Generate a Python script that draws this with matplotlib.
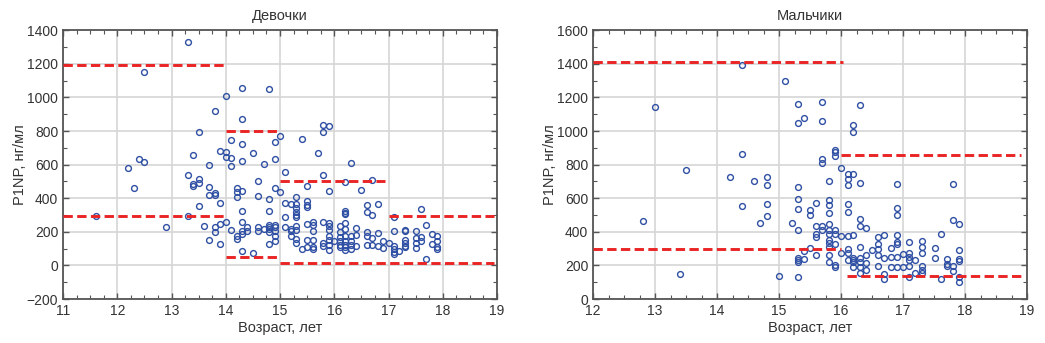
import matplotlib.pyplot as plt
import numpy as np

plt.rcParams.update({"font.family": ["Liberation Sans", "DejaVu Sans"], "font.size": 10})

# Девочки: возраст (лет) и P1NP (нг/мл)
girls_age = [11.6, 12.2, 12.3, 12.4, 12.5, 12.5, 12.9, 13.3, 13.3, 13.3, 13.4, 13.4, 13.4,
             13.5, 13.5, 13.5, 13.5, 13.6, 13.7, 13.7, 13.7, 13.7, 13.8, 13.8, 13.8, 13.8, 13.8,
             13.9, 13.9, 13.9, 13.9, 14.0, 14.0, 14.0, 14.0, 14.1, 14.1, 14.1, 14.1,
             14.2, 14.2, 14.2, 14.2, 14.2, 14.3, 14.3, 14.3, 14.3, 14.3, 14.3, 14.3, 14.3, 14.3, 14.3,
             14.4, 14.4, 14.5, 14.5, 14.6, 14.6, 14.6, 14.6, 14.7, 14.7,
             14.8, 14.8, 14.8, 14.8, 14.8, 14.8, 14.8, 14.8,
             14.9, 14.9, 14.9, 14.9, 14.9, 14.9, 14.9, 14.9, 15.0, 15.0,
             15.1, 15.1, 15.1, 15.1, 15.2, 15.2, 15.2, 15.2,
             15.3, 15.3, 15.3, 15.3, 15.3, 15.3, 15.3, 15.3, 15.3, 15.3, 15.4, 15.4,
             15.5, 15.5, 15.5, 15.5, 15.5, 15.5, 15.5, 15.6, 15.6, 15.6, 15.6, 15.6, 15.6, 15.7,
             15.8, 15.8, 15.8, 15.8, 15.8, 15.8, 15.9, 15.9, 15.9, 15.9, 15.9, 15.9, 15.9, 15.9, 15.9,
             16.0, 16.1, 16.1, 16.1, 16.1, 16.1, 16.1,
             16.2, 16.2, 16.2, 16.2, 16.2, 16.2, 16.2, 16.2, 16.2, 16.2, 16.2,
             16.3, 16.3, 16.3, 16.3, 16.3, 16.4, 16.4, 16.4, 16.5,
             16.6, 16.6, 16.6, 16.6, 16.6, 16.7, 16.7, 16.7, 16.7, 16.8, 16.8, 16.8, 16.9, 16.9, 17.0,
             17.1, 17.1, 17.1, 17.1, 17.1, 17.1, 17.2, 17.3, 17.3, 17.3, 17.3, 17.3, 17.3,
             17.5, 17.5, 17.5, 17.5, 17.6, 17.6, 17.6, 17.7, 17.7, 17.8, 17.8, 17.9, 17.9, 17.9, 17.9]
girls_p1np = [296, 580, 460, 633, 615, 1154, 227, 1327, 538, 292, 657, 487, 472,
              797, 517, 489, 351, 237, 598, 469, 422, 152, 917, 434, 422, 229, 197,
              680, 369, 244, 126, 1010, 675, 643, 256, 747, 637, 593, 213,
              463, 440, 408, 173, 158, 1055, 872, 724, 619, 444, 325, 256, 203, 189, 85,
              227, 207, 669, 75, 503, 416, 231, 207, 604, 215,
              1051, 398, 325, 243, 231, 215, 201, 128,
              734, 633, 463, 243, 227, 207, 176, 146, 771, 440,
              555, 371, 290, 227, 365, 215, 207, 173,
              406, 365, 341, 321, 302, 286, 233, 213, 158, 134, 751, 96,
              475, 385, 361, 345, 247, 152, 108, 256, 243, 207, 152, 108, 96, 670,
              838, 797, 540, 256, 134, 114, 832, 444, 254, 233, 213, 178, 152, 122, 93,
              148, 237, 201, 172, 148, 122, 108,
              497, 327, 315, 304, 254, 219, 178, 148, 122, 108, 93,
              609, 178, 148, 122, 96, 223, 182, 118, 448,
              361, 318, 197, 173, 122, 507, 300, 162, 122, 365, 191, 118, 144, 102, 132,
              290, 203, 114, 99, 79, 69, 85, 213, 203, 152, 134, 118, 108,
              203, 162, 132, 102, 335, 172, 144, 243, 37, 187, 128, 173, 148, 108, 96]

# Мальчики
boys_age = [12.8, 13.0, 13.4, 13.5, 14.21, 14.4, 14.4, 14.4, 14.6, 14.7,
            14.81, 14.81, 14.81, 14.81, 15.0, 15.1, 15.21,
            15.31, 15.31, 15.31, 15.31, 15.31, 15.31, 15.31, 15.31, 15.31, 15.31,
            15.41, 15.41, 15.41, 15.5, 15.5, 15.5, 15.6, 15.6, 15.6, 15.6, 15.6,
            15.7, 15.7, 15.7, 15.7, 15.7, 15.7,
            15.8, 15.8, 15.8, 15.8, 15.8, 15.8, 15.8, 15.8, 15.8, 15.8, 15.8, 15.8,
            15.9, 15.9, 15.9, 15.9, 15.9, 15.9, 15.9, 15.9, 16.0, 16.0, 16.0,
            16.11, 16.11, 16.11, 16.11, 16.11, 16.11, 16.11, 16.11, 16.11,
            16.2, 16.2, 16.2, 16.2, 16.2, 16.2, 16.2, 16.2,
            16.3, 16.3, 16.3, 16.3, 16.3, 16.3, 16.3, 16.3, 16.3,
            16.4, 16.4, 16.4, 16.4, 16.5, 16.6, 16.6, 16.6, 16.6, 16.6,
            16.7, 16.7, 16.7, 16.7, 16.81, 16.81, 16.81,
            16.9, 16.9, 16.9, 16.9, 16.9, 16.9, 16.9, 16.9, 17.0, 17.0,
            17.1, 17.1, 17.1, 17.1, 17.1, 17.1, 17.2, 17.2,
            17.31, 17.31, 17.31, 17.31, 17.31, 17.31, 17.51, 17.51, 17.61, 17.61,
            17.71, 17.71, 17.71, 17.8, 17.8, 17.8, 17.8,
            17.91, 17.91, 17.91, 17.91, 17.91, 17.91]
boys_p1np = [464, 1141, 152, 768, 727, 1394, 864, 552, 704, 450,
             727, 679, 566, 497, 135, 1295, 450,
             1160, 1045, 665, 595, 534, 410, 246, 234, 218, 133,
             1075, 288, 236, 531, 501, 304, 573, 437, 386, 367, 261,
             1172, 1061, 836, 807, 437, 411,
             700, 589, 560, 515, 444, 411, 386, 351, 332, 308, 263, 220,
             887, 873, 852, 410, 386, 327, 203, 191, 780, 374, 273,
             747, 713, 679, 563, 519, 373, 298, 273, 232,
             1037, 993, 745, 380, 242, 232, 218, 191,
             1153, 689, 478, 437, 312, 244, 218, 191, 156,
             425, 265, 215, 171, 292, 367, 328, 300, 263, 195,
             380, 246, 152, 121, 304, 253, 191,
             683, 542, 501, 382, 339, 328, 253, 191, 269, 191,
             339, 273, 250, 234, 195, 133, 234, 154,
             343, 312, 275, 195, 176, 154, 304, 246, 390, 117,
             236, 211, 195, 683, 468, 199, 166,
             445, 291, 238, 226, 133, 101]

# референсные границы (от, до, уровень)
girls_ref_from = [11.0, 11.0, 14.0, 14.0, 15.0, 15.0, 17.0]
girls_ref_to = [14.0, 14.0, 15.0, 15.0, 16.93, 18.95, 18.95]
girls_ref_level = [1195, 295, 800, 50, 505, 15, 295]

boys_ref_from = [12.0, 12.0, 16.0, 16.1]
boys_ref_to = [16.03, 16.0, 18.9, 18.97]
boys_ref_level = [1410, 300, 860, 135]

txt = '#333333'
fig = plt.figure(figsize=(10.45, 3.43), dpi=100)
ax1 = fig.add_axes([0.0603, 0.128, 0.4153, 0.784])
ax2 = fig.add_axes([0.5675, 0.128, 0.4153, 0.784])


def style(ax, title, xmin, ymin, ymax):
    ax.set_xlim(xmin, 19)
    ax.set_ylim(ymin, ymax)
    ax.set_xticks(np.arange(xmin, 20, 1))
    ax.set_yticks(np.arange(ymin, ymax + 1, 200))
    ax.set_xticks(np.arange(xmin, 19.01, 0.25), minor=True)
    ax.set_yticks(np.arange(ymin, ymax + 1, 100), minor=True)
    ax.grid(True, which='major', color='#d6d6d6', lw=1.2)
    ax.set_axisbelow(True)
    ax.tick_params(which='both', direction='in', top=True, right=True, colors='#555555',
                   labelcolor=txt, labelsize=10)
    ax.tick_params(which='major', length=4, width=1)
    ax.tick_params(which='minor', length=3, width=0.8)
    for s in ax.spines.values():
        s.set_color('#555555')
        s.set_linewidth(1.3)
    ax.set_title(title, fontsize=10.5, color=txt, pad=7)
    ax.set_xlabel('Возраст, лет', fontsize=10.5, color=txt, labelpad=2)
    ax.set_ylabel('P1NP, нг/мл', fontsize=10.5, color=txt, labelpad=0)


style(ax1, 'Девочки', 11, -200, 1400)
style(ax2, 'Мальчики', 12, 0, 1600)

for ax, xs, ys, f, t, lv in [(ax1, girls_age, girls_p1np, girls_ref_from, girls_ref_to, girls_ref_level),
                             (ax2, boys_age, boys_p1np, boys_ref_from, boys_ref_to, boys_ref_level)]:
    ax.plot(xs, ys, 'o', mfc='none', mec='#2e4fa3', ms=4.2, mew=1, zorder=3)
    for a, b, y in zip(f, t, lv):
        ax.plot([a, b], [y, y], color='#ea2424', lw=2.1, dashes=(3.2, 1.5), zorder=4)

plt.savefig('out.png', dpi=100)
